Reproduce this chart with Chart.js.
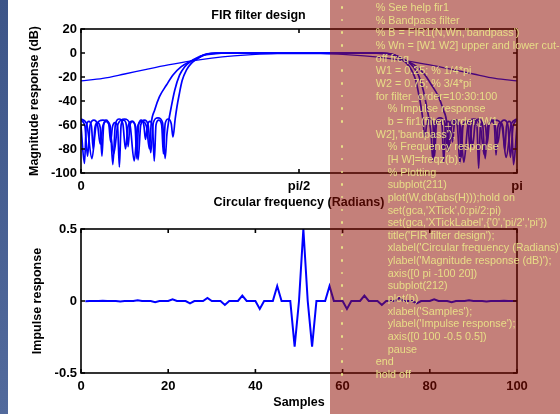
<!DOCTYPE html>
<html>
<head>
<meta charset="utf-8">
<script src="https://cdn.jsdelivr.net/npm/chart.js@4/dist/chart.umd.min.js"></script>
<style>
  body { margin: 0; width: 560px; height: 414px; overflow: hidden; background: #fff; position: relative; font-family: 'Liberation Sans', Arial, sans-serif; }
  #faixa { position: absolute; left: 0; top: 0; width: 8px; height: 414px; background: linear-gradient(#3d5588, #526a9c); z-index: 2; }
  .plot { position: absolute; left: 0; width: 560px; }
  #topo { top: 0; height: 214px; }
  #base { top: 214px; height: 200px; }
  #painel { position: absolute; left: 330px; top: 0; width: 230px; height: 414px; background: rgba(142, 12, 0, 0.52); overflow: hidden; z-index: 3; }
  #codigo { list-style: none; margin: 0; padding: 0; position: absolute; top: 1px; left: 0; width: 230px; font-size: 10.8px; line-height: 12.66px; color: #e8de86; white-space: nowrap; }
  #codigo li { position: relative; padding-left: 45.7px; height: 12.66px; }
  #codigo li.n2 { padding-left: 57.7px; }
  #codigo li.b::before { content: ''; position: absolute; left: 10.5px; top: 5px; width: 2.6px; height: 2.6px; border-radius: 50%; background: #e8de86; }
</style>
</head>
<body>
<div id="faixa"></div>
<div class="plot" id="topo"><canvas id="grafTopo" width="560" height="214"></canvas></div>
<div class="plot" id="base"><canvas id="grafBase" width="560" height="200"></canvas></div>
<div id="painel"><ul id="codigo"></ul></div>

<script>
// magnitude response, frequency in units of pi, one pair of arrays per filter order
const w10 = [0, 0.05, 0.1, 0.15, 0.2, 0.25, 0.3, 0.35, 0.4, 0.45, 0.5, 0.55, 0.6, 0.65, 0.7, 0.75, 0.8, 0.85, 0.9, 0.95, 1];
const db10 = [-23.3, -21.2, -17.5, -13.6, -9.9, -6.7, -4.2, -2.4, -1.2, -0.6, -0.4, -0.6, -1.2, -2.4, -4.2, -6.7, -9.9, -13.6, -17.5, -21.2, -23.3];

const w40 = [
  0, 0.013, 0.025, 0.035, 0.05, 0.065, 0.075, 0.085, 0.1, 0.112,
  0.122, 0.13, 0.14, 0.15, 0.157, 0.161, 0.169, 0.18, 0.196, 0.211,
  0.23, 0.249, 0.265, 0.28, 0.303, 0.34, 0.5, 0.66, 0.697, 0.72,
  0.735, 0.751, 0.77, 0.789, 0.804, 0.82, 0.831, 0.839, 0.843, 0.85,
  0.86, 0.87, 0.878, 0.888, 0.9, 0.915, 0.925, 0.935, 0.95, 0.965,
  0.975, 0.987, 1
];
const db40 = [
  -55, -59, -88, -60, -56, -60, -84, -59, -55, -59,
  -90, -61, -57, -61, -80, -59, -47.5, -36.4, -26.7, -18.3,
  -11.4, -7.2, -5, -2, -0.7, 0, 0, 0, -0.7, -2,
  -5, -7.2, -11.4, -18.3, -26.7, -36.4, -47.5, -59, -82, -61,
  -57, -61, -91, -59, -55, -59, -85, -60, -56, -60,
  -87, -59, -55
];

const w70 = [
  0, 0.009, 0.015, 0.021, 0.0295, 0.038, 0.044, 0.05, 0.0585, 0.067,
  0.073, 0.079, 0.0875, 0.096, 0.102, 0.108, 0.1165, 0.125, 0.131, 0.137,
  0.1455, 0.154, 0.16, 0.166, 0.1765, 0.187, 0.193, 0.197, 0.201, 0.207,
  0.215, 0.226, 0.238, 0.253, 0.27, 0.285, 0.31, 0.34, 0.5, 0.66,
  0.69, 0.715, 0.73, 0.747, 0.762, 0.774, 0.785, 0.793, 0.799, 0.803,
  0.807, 0.813, 0.8235, 0.834, 0.84, 0.846, 0.8545, 0.863, 0.869, 0.875,
  0.8835, 0.892, 0.898, 0.904, 0.9125, 0.921, 0.927, 0.933, 0.9415, 0.95,
  0.956, 0.962, 0.9705, 0.979, 0.985, 0.991, 1
];
const db70 = [
  -56, -61, -86, -60, -56, -60, -76, -61, -57, -61,
  -93, -59, -55, -59, -80, -61, -57, -61, -89, -60,
  -56, -60, -83, -58, -54, -58, -88, -68, -57, -45,
  -31, -18.5, -11.4, -6.7, -3.3, -1, -0.1, 0, 0, 0,
  -0.1, -1, -3.3, -6.7, -11.4, -18.5, -31, -45, -57, -68,
  -90, -58, -54, -58, -80, -60, -56, -60, -92, -61,
  -57, -61, -78, -59, -55, -59, -88, -61, -57, -61,
  -75, -60, -56, -60, -87, -61, -56
];

const w100 = [
  0, 0.008, 0.012, 0.018, 0.024, 0.028, 0.032, 0.038, 0.044, 0.048,
  0.052, 0.058, 0.064, 0.068, 0.072, 0.078, 0.084, 0.088, 0.092, 0.098,
  0.104, 0.108, 0.112, 0.118, 0.124, 0.128, 0.132, 0.138, 0.144, 0.148,
  0.152, 0.158, 0.164, 0.168, 0.172, 0.1785, 0.185, 0.189, 0.193, 0.2,
  0.207, 0.211, 0.216, 0.22, 0.225, 0.232, 0.242, 0.253, 0.265, 0.276,
  0.29, 0.31, 0.35, 0.5, 0.65, 0.69, 0.71, 0.724, 0.735, 0.747,
  0.758, 0.768, 0.775, 0.78, 0.784, 0.789, 0.793, 0.8, 0.807, 0.811,
  0.815, 0.8215, 0.828, 0.832, 0.836, 0.842, 0.848, 0.852, 0.856, 0.862,
  0.868, 0.872, 0.876, 0.882, 0.888, 0.892, 0.896, 0.902, 0.908, 0.912,
  0.916, 0.922, 0.928, 0.932, 0.936, 0.942, 0.948, 0.952, 0.956, 0.962,
  0.968, 0.972, 0.976, 0.982, 0.988, 0.992, 1
];
const db100 = [
  -61, -92, -61, -57, -61, -80, -62, -58, -62, -86,
  -60, -56, -60, -74, -62, -58, -62, -95, -60, -56,
  -60, -78, -61, -57, -61, -88, -60, -56, -60, -72,
  -61, -57, -61, -90, -60, -56, -60, -84, -59, -55,
  -59, -70, -55, -45, -35, -23, -14, -8.6, -5.3, -2.6,
  -0.8, -0.1, 0, 0, 0, -0.1, -0.8, -2.6, -5.3, -8.6,
  -14, -23, -35, -45, -55, -70, -59, -55, -59, -86,
  -60, -56, -60, -91, -61, -57, -61, -74, -60, -56,
  -60, -87, -61, -57, -61, -79, -60, -56, -60, -96,
  -62, -58, -62, -75, -60, -56, -60, -85, -62, -58,
  -62, -81, -61, -57, -61, -93, -61
];

const freqTicks = [0, 0.5, 1];
const freqTickLabels = ['0', 'pi/2', 'pi'];

// taps of the order 100 filter, samples 1..101
const impulse = [
  -0.001, 0, 0, 0, 0.002, 0, 0, 0, -0.003, 0,
  0, 0, 0.005, 0, 0, 0, -0.008, 0, 0, 0,
  0.012, 0, 0, 0, -0.016, 0, 0, 0, 0.021, 0,
  0, 0, -0.027, 0, 0, 0, 0.037, 0, 0, 0,
  -0.055, 0, 0, 0, 0.104, 0, 0, 0, -0.317, 0,
  0.5, 0, -0.317, 0, 0, 0, 0.104, 0, 0, 0,
  -0.055, 0, 0, 0, 0.037, 0, 0, 0, -0.027, 0,
  0, 0, 0.021, 0, 0, 0, -0.016, 0, 0, 0,
  0.012, 0, 0, 0, -0.008, 0, 0, 0, 0.005, 0,
  0, 0, -0.003, 0, 0, 0, 0.002, 0, 0, 0,
  -0.001
];

// script listing: [text, indent level, bullet]
const linhasCodigo = [
  ["% See help fir1", 1, true],
  ["% Bandpass filter", 1, true],
  ["% B = FIR1(N,Wn,'bandpass')", 1, true],
  ["% Wn = [W1 W2] upper and lower cut-", 1, true],
  ["off freq", 1, false],
  ["W1 = 0.25; % 1/4*pi", 1, true],
  ["W2 = 0.75; % 3/4*pi", 1, true],
  ["for filter_order=10:30:100", 1, true],
  ["% Impulse response", 2, true],
  ["b = fir1(filter_order,[W1", 2, true],
  ["W2],'bandpass');", 1, false],
  ["% Frequency response", 2, true],
  ["[H W]=freqz(b);", 2, true],
  ["% Plotting", 2, true],
  ["subplot(211)", 2, true],
  ["plot(W,db(abs(H)));hold on", 2, true],
  ["set(gca,'XTick',0:pi/2:pi)", 2, true],
  ["set(gca,'XTickLabel',{'0','pi/2','pi'})", 2, true],
  ["title('FIR filter design');", 2, true],
  ["xlabel('Circular frequency (Radians)');", 2, true],
  ["ylabel('Magnitude response (dB)');", 2, true],
  ["axis([0 pi -100 20])", 2, true],
  ["subplot(212)", 2, true],
  ["plot(b)", 2, true],
  ["xlabel('Samples');", 2, true],
  ["ylabel('Impulse response');", 2, true],
  ["axis([0 100 -0.5 0.5])", 2, true],
  ["pause", 2, true],
  ["end", 1, true],
  ["hold off", 1, true]
];

const lista = document.getElementById('codigo');
linhasCodigo.forEach(([texto, nivel, marcador]) => {
  const li = document.createElement('li');
  li.textContent = texto;
  if (nivel === 2) li.classList.add('n2');
  if (marcador) li.classList.add('b');
  lista.appendChild(li);
});

const familia = "'Liberation Sans', Arial, Helvetica, sans-serif";
const fonteTick = { family: familia, size: 13, weight: 'bold' };
const fonteRotulo = { family: familia, size: 12.5, weight: 'bold' };

// box around the axes with inward tick marks on all four sides
const caixaEixos = {
  id: 'caixaEixos',
  afterDraw(chart) {
    const { ctx, chartArea: a, scales: { x, y } } = chart;
    ctx.save();
    ctx.strokeStyle = '#000';
    ctx.lineWidth = 1.6;
    ctx.strokeRect(a.left, a.top, a.right - a.left, a.bottom - a.top);
    ctx.beginPath();
    x.ticks.forEach(t => {
      const px = x.getPixelForValue(t.value);
      ctx.moveTo(px, a.bottom); ctx.lineTo(px, a.bottom - 4);
      ctx.moveTo(px, a.top); ctx.lineTo(px, a.top + 4);
    });
    y.ticks.forEach(t => {
      const py = y.getPixelForValue(t.value);
      ctx.moveTo(a.left, py); ctx.lineTo(a.left + 4, py);
      ctx.moveTo(a.right, py); ctx.lineTo(a.right - 4, py);
    });
    ctx.stroke();
    ctx.restore();
  }
};

function serie(xs, ys) {
  return xs.map((v, i) => ({ x: v, y: ys[i] }));
}

function linha(dados, largura, suave) {
  const ds = { data: dados, borderColor: '#0000ff', borderWidth: largura, pointRadius: 0, fill: false, tension: 0 };
  if (suave) ds.cubicInterpolationMode = 'monotone';
  return ds;
}

function eixoX(extra) {
  return Object.assign({
    type: 'linear',
    grid: { display: false, drawTicks: false },
    border: { display: false }
  }, extra);
}

function eixoY(extra) {
  return Object.assign({
    grid: { display: false, drawTicks: false },
    border: { display: false },
    afterFit: s => { s.width = 81; }
  }, extra);
}

new Chart(document.getElementById('grafTopo'), {
  type: 'line',
  data: {
    datasets: [
      linha(serie(w10, db10), 1.3, true),
      linha(serie(w40, db40), 1.7, true),
      linha(serie(w70, db70), 1.7, true),
      linha(serie(w100, db100), 1.7, true)
    ]
  },
  options: {
    responsive: false,
    devicePixelRatio: 1,
    animation: false,
    layout: { padding: { left: 0, right: 43, top: 0, bottom: 0 } },
    plugins: {
      legend: { display: false },
      tooltip: { enabled: false },
      title: { display: true, text: 'FIR filter design', color: '#000', font: fonteRotulo, padding: { top: 8, bottom: 6 } }
    },
    scales: {
      x: eixoX({
        min: 0, max: 1,
        afterBuildTicks: s => { s.ticks = freqTicks.map(v => ({ value: v })); },
        ticks: { color: '#000', font: fonteTick, maxRotation: 0, autoSkip: false, padding: 6,
          callback: v => freqTickLabels[freqTicks.indexOf(v)] },
        title: { display: true, text: 'Circular frequency (Radians)', color: '#000', font: fonteRotulo, padding: { top: 0, bottom: 4 } },
        afterFit: s => { s.height = 41; }
      }),
      y: eixoY({
        min: -100, max: 20,
        ticks: { color: '#000', font: fonteTick, padding: 4, stepSize: 20, autoSkip: false },
        title: { display: true, text: 'Magnitude response (dB)', color: '#000', font: fonteRotulo, padding: { top: 27.5, bottom: 0 } }
      })
    }
  },
  plugins: [caixaEixos]
});

new Chart(document.getElementById('grafBase'), {
  type: 'line',
  data: {
    datasets: [linha(impulse.map((v, i) => ({ x: i + 1, y: v })), 2, false)]
  },
  options: {
    responsive: false,
    devicePixelRatio: 1,
    animation: false,
    layout: { padding: { left: 0, right: 43, top: 15, bottom: 0 } },
    plugins: { legend: { display: false }, tooltip: { enabled: false } },
    scales: {
      x: eixoX({
        min: 0, max: 100,
        ticks: { color: '#000', font: fonteTick, maxRotation: 0, autoSkip: false, padding: 6, stepSize: 20 },
        title: { display: true, text: 'Samples', color: '#000', font: fonteRotulo, padding: { top: 0, bottom: 3.5 } },
        afterFit: s => { s.height = 41; }
      }),
      y: eixoY({
        min: -0.5, max: 0.5,
        ticks: { color: '#000', font: fonteTick, padding: 4, stepSize: 0.5, autoSkip: false },
        title: { display: true, text: 'Impulse response', color: '#000', font: fonteRotulo, padding: { top: 30.5, bottom: 0 } }
      })
    }
  },
  plugins: [caixaEixos]
});
</script>
</body>
</html>
